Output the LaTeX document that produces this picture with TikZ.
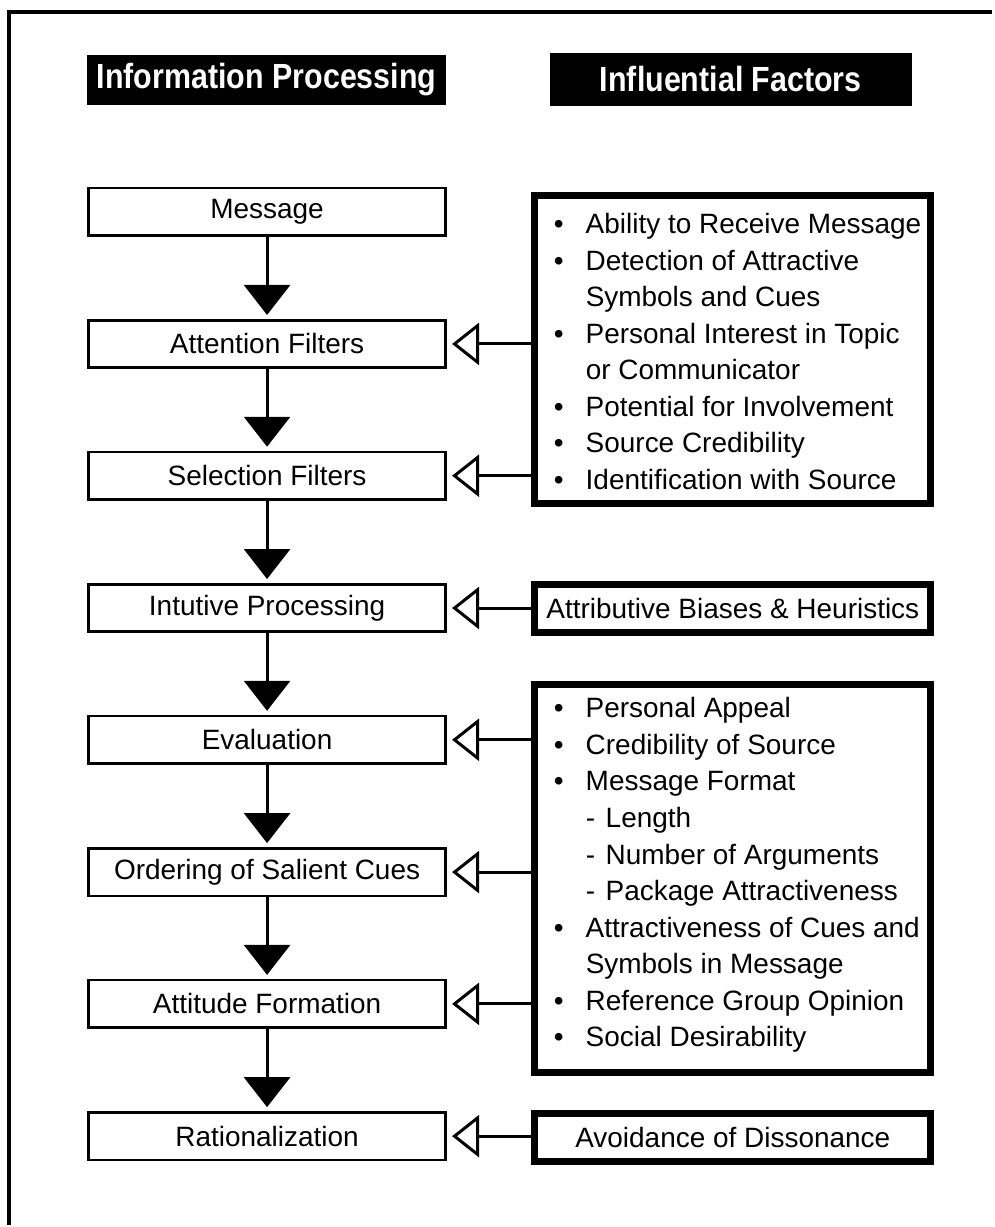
\documentclass[tikz,border=0pt]{standalone}
\usepackage{fontspec}
\setmainfont{Liberation Sans}
\newfontfamily\headfont{Liberation Sans Bold}[FakeStretch=0.87]
\usetikzlibrary{arrows.meta}

% list helpers for the factor boxes
\newcommand\itm{\makebox[32pt][l]{\textbullet}}
\newcommand\contline{\hspace*{32pt}}
\newcommand\subitm{\hspace*{32pt}\makebox[20pt][l]{-}}

\begin{document}
\begin{tikzpicture}[x=1pt,y=-1pt,
  heading/.style={fill=black, text=white, inner sep=0pt, minimum height=50pt,
    font=\headfont\fontsize{35}{40}\selectfont},
  stage/.style={draw, line width=2.6pt, minimum width=358pt, minimum height=47.5pt,
    inner sep=0pt, font=\fontsize{28}{34}\selectfont},
  factor/.style={draw, line width=7pt, minimum width=397pt, inner sep=0pt,
    font=\fontsize{28}{34}\selectfont},
  factortext/.style={align=left, inner sep=0pt, anchor=west,
    font=\fontsize{28}{36.6}\selectfont},
  flow/.style={line width=3pt, -{Triangle[width=46pt,length=30pt]}, shorten >=4pt},
  feed/.style={line width=3pt, -{Triangle[open,width=42pt,length=27pt]}, shorten >=5pt},
]
% page and outer frame
\fill[white] (0,0) rectangle (994,1227);
\draw[line width=4pt] (994,12) -- (9,12) -- (9,1227);

% column headings
\node[heading, minimum width=360pt] (hproc) at (267,80) {Information Processing};
\node[heading, minimum width=362pt, minimum height=53pt] (hfact) at (732,79.5) {Influential Factors};

% processing stages
\node[stage] (msg)  at (267.5,212)   {Message};
\node[stage] (att)  at (267.5,344.5) {Attention Filters};
\node[stage] (sel)  at (267.5,476.5) {Selection Filters};
\node[stage] (intu) at (267.5,609)   {Intutive Processing};
\node[stage] (eval) at (267.5,741)   {Evaluation};
\node[stage] (ord)  at (267.5,873.5) {Ordering of Salient Cues};
\node[stage] (attf) at (267.5,1005.5){Attitude Formation};
\node[stage] (rat)  at (267.5,1138)  {Rationalization};

% influential factors
\node[factor, minimum height=309pt] (fa) at (734,350) {};
\node[factortext] (fatext) at ([xshift=22.5pt,yshift=-2pt]fa.west) {%
\itm Ability to Receive Message\\
\itm Detection of Attractive\\
\contline Symbols and Cues\\
\itm Personal Interest in Topic\\
\contline or Communicator\\
\itm Potential for Involvement\\
\itm Source Credibility\\
\itm Identification with Source};

\node[factor, minimum height=48pt] (fb) at (734,609.5) {Attributive Biases \& Heuristics};

\node[factor, minimum height=389pt] (fc) at (734,880) {};
\node[factortext] (fctext) at ([xshift=22.5pt,yshift=3.5pt]fc.west) {%
\itm Personal Appeal\\
\itm Credibility of Source\\
\itm Message Format\\
\subitm Length\\
\subitm Number of Arguments\\
\subitm Package Attractiveness\\
\itm Attractiveness of Cues and\\
\contline Symbols in Message\\
\itm Reference Group Opinion\\
\itm Social Desirability};

\node[factor, minimum height=48pt] (fd) at (734,1139.5) {Avoidance of Dissonance};

% flow between stages
\draw[flow] (msg)  -- (att);
\draw[flow] (att)  -- (sel);
\draw[flow] (sel)  -- (intu);
\draw[flow] (intu) -- (eval);
\draw[flow] (eval) -- (ord);
\draw[flow] (ord)  -- (attf);
\draw[flow] (attf) -- (rat);

% factor influences
\draw[feed] (fa.west |- att)  -- (att.east);
\draw[feed] (fa.west |- sel)  -- (sel.east);
\draw[feed] (fb.west |- intu) -- (intu.east);
\draw[feed] (fc.west |- eval) -- (eval.east);
\draw[feed] (fc.west |- ord)  -- (ord.east);
\draw[feed] (fc.west |- attf) -- (attf.east);
\draw[feed] (fd.west |- rat)  -- (rat.east);
\end{tikzpicture}
\end{document}
